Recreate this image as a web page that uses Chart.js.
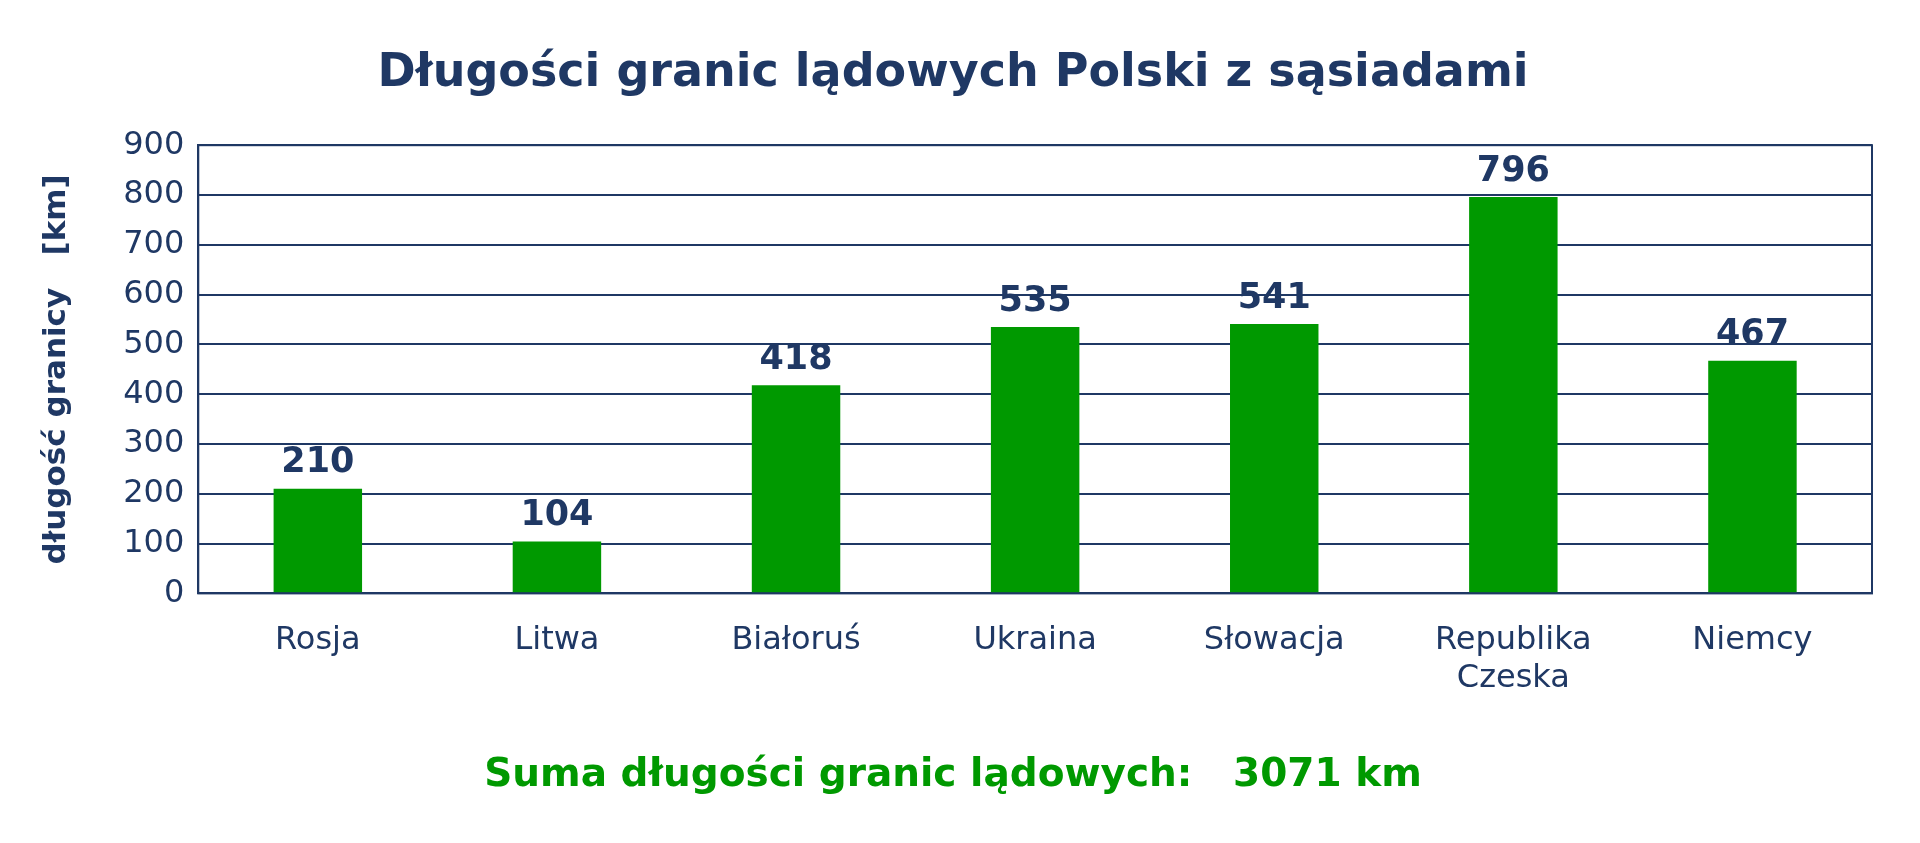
<!DOCTYPE html>
<html>
<head>
<meta charset="utf-8">
<script src="https://cdn.jsdelivr.net/npm/chart.js@4/dist/chart.umd.min.js"></script>
<style>
html,body{margin:0;padding:0;background:#fff}
#wrap{width:1920px;height:843px}
</style>
</head>
<body>
<div id="wrap"><canvas id="c"></canvas></div>
<script>
const countries = ['Rosja', 'Litwa', 'Białoruś', 'Ukraina', 'Słowacja', ['Republika', 'Czeska'], 'Niemcy'];
const borderKm = [210, 104, 418, 535, 541, 796, 467];
const yTicks = [0, 100, 200, 300, 400, 500, 600, 700, 800, 900];

const navy = '#1F3864';
const green = '#009900';

// ramka wokół obszaru wykresu + etykiety wartości nad słupkami
const extras = {
    id: 'extras',
    afterDraw(chart) {
        const ctx = chart.ctx;
        const a = chart.chartArea;
        ctx.save();
        ctx.strokeStyle = navy;
        ctx.lineWidth = 2;
        ctx.strokeRect(a.left, a.top, a.right - a.left, a.bottom - a.top);
        ctx.fillStyle = navy;
        ctx.font = 'bold 35px "DejaVu Sans"';
        ctx.textAlign = 'center';
        ctx.textBaseline = 'bottom';
        chart.getDatasetMeta(0).data.forEach((bar, i) => {
            ctx.fillText(borderKm[i], bar.x, bar.y - 8);
        });
        ctx.restore();
    }
};

new Chart(document.getElementById('c'), {
    type: 'bar',
    data: {
        labels: countries,
        datasets: [{
            data: borderKm,
            backgroundColor: green,
            barPercentage: 0.37,
            categoryPercentage: 1
        }]
    },
    options: {
        responsive: true,
        maintainAspectRatio: false,
        animation: false,
        layout: { padding: { left: 34, right: 48, top: 0, bottom: 24 } },
        plugins: {
            legend: { display: false },
            tooltip: { enabled: false },
            title: {
                display: true,
                text: 'Długości granic lądowych Polski z sąsiadami',
                color: navy,
                font: { family: 'DejaVu Sans', size: 46, weight: 'bold' },
                padding: { top: 46, bottom: 44 }
            },
            subtitle: {
                display: true,
                position: 'bottom',
                text: 'Suma długości granic lądowych:   3071 km',
                color: green,
                font: { family: 'DejaVu Sans', size: 39, weight: 'bold' },
                padding: { top: 34, bottom: 20 }
            }
        },
        scales: {
            x: {
                grid: { display: false },
                border: { color: navy, width: 2 },
                ticks: { color: navy, font: { family: 'DejaVu Sans', size: 32 }, padding: 20 }
            },
            y: {
                min: 0,
                max: 900,
                afterBuildTicks(axis) { axis.ticks = yTicks.map(v => ({ value: v })); },
                grid: { color: navy, lineWidth: 2, drawTicks: false },
                border: { color: navy, width: 2 },
                ticks: { color: navy, font: { family: 'DejaVu Sans', size: 32 }, padding: 14 },
                title: {
                    display: true,
                    text: 'długość granicy   [km]',
                    color: navy,
                    font: { family: 'DejaVu Sans', size: 31, weight: 'bold' },
                    padding: { bottom: 34 }
                }
            }
        }
    },
    plugins: [extras]
});
</script>
</body>
</html>
